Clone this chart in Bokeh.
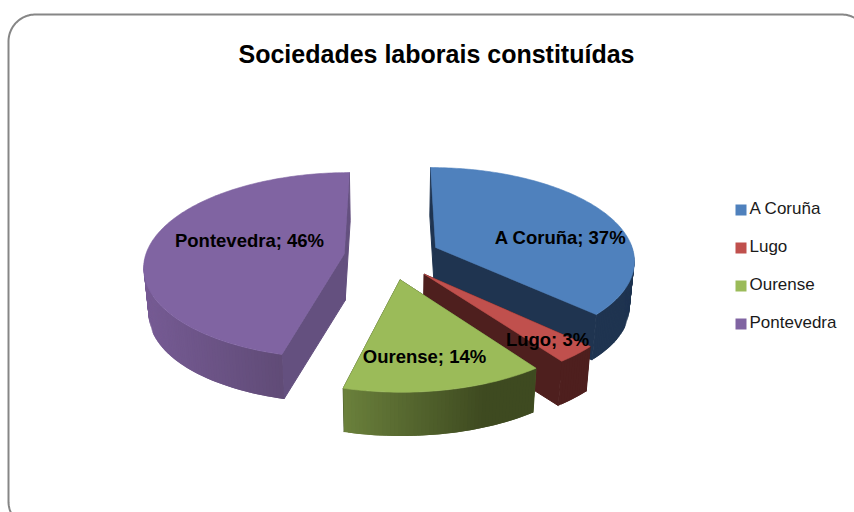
import math
from bokeh.plotting import figure
from bokeh.models import Range1d, ColumnDataSource
from bokeh.core.properties import value
from bokeh.embed import file_html
from bokeh.resources import INLINE

categories = ["A Coruña", "Lugo", "Ourense", "Pontevedra"]
percents = [37, 3, 14, 46]
top_colors = ["#4f81bd", "#c0504d", "#9bbb59", "#8064a2"]
cut_colors = ["#1f3450", "#4e1f1e", "#4a5a28", "#64507f"]
wall_left = ["#1f3450", "#4e1f1e", "#6b813c", "#765b94"]
wall_right = ["#1f3450", "#4e1f1e", "#3e4a20", "#564469"]
explode = [0.25, 0.25, 0.25, 0.235]
title = "Sociedades laborais constituídas"

W, H = 854, 512
p = figure(width=W, height=H, output_backend="svg", toolbar_location=None,
           x_range=Range1d(0, W), y_range=Range1d(H, 0), min_border=0,
           outline_line_color=None, background_fill_color="white")
p.axis.visible = False
p.grid.visible = False

# rounded chart frame (continues past the page edge, as in the reference)
L, T, R_, B_, rad = 8, 14, 868, 528, 27
fx, fy = [], []
for (cxx, cyy, a0) in [(L + rad, T + rad, 180), (R_ - rad, T + rad, 270), (R_ - rad, B_ - rad, 0), (L + rad, B_ - rad, 90)]:
    for i in range(0, 31):
        a = math.radians(a0 + 3 * i)
        fx.append(cxx + rad * math.cos(a))
        fy.append(cyy + rad * math.sin(a))
fx.append(fx[0]); fy.append(fy[0])
p.line(fx, fy, line_color="#868686", line_width=2)

# perspective projection of an exploded pie
CX, CY, A, Bb, K, DEPTH, SHRINK = 390, 256, 199, 92, 0.125, 46.5, 0.98


def proj(X, Y, lower=False):
    d = 1 + K * Y
    sx, sy = CX + A * X / d, CY - Bb * Y / d
    if lower:
        sx = CX + (sx - CX) * SHRINK
        sy = CY + (sy - CY) * SHRINK + DEPTH
    return sx, sy


def mix(c1, c2, f):
    v = [int(c1[i:i + 2], 16) * (1 - f) + int(c2[i:i + 2], 16) * f for i in (1, 3, 5)]
    return "#%02x%02x%02x" % tuple(round(x) for x in v)


start = 0.0
total = sum(percents)
slices = []
for i, v in enumerate(percents):
    a0 = start / total * 2 * math.pi
    a1 = (start + v) / total * 2 * math.pi
    mid = (a0 + a1) / 2
    slices.append((i, a0, a1, explode[i] * math.sin(mid), explode[i] * math.cos(mid)))
    start += v

for i, a0, a1, ox, oy in [slices[3], slices[0], slices[1], slices[2]]:
    n = max(8, int((a1 - a0) * 60))
    ts = [a0 + (a1 - a0) * j / n for j in range(n + 1)]
    pts = [(ox + math.sin(t), oy + math.cos(t)) for t in ts]
    # cut walls, stroked so that they leave no gap against the outer wall
    for q in (pts[0], pts[-1]):
        xs, ys = zip(proj(ox, oy), proj(*q), proj(*q, True), proj(ox, oy, True))
        p.patch(list(xs), list(ys), fill_color=cut_colors[i], line_color=cut_colors[i], line_width=1)
    # outer wall, as overlapping strips so that the shading runs across it without seams
    sxs = [proj(*q)[0] for q in pts]
    lo, hi = min(sxs), max(sxs)
    visible = [j for j in range(n) if not (pts[j][1] - oy > 0.05 and pts[j + 1][1] - oy > 0.05)]
    visible.sort(key=lambda j: (sxs[j] + sxs[j + 1]))
    qx, qy, qc = [], [], []
    for pos, j in enumerate(visible):
        nxt = visible[min(pos + 1, len(visible) - 1)]
        idx = sorted({j, nxt})
        u, w = pts[idx[0]], pts[idx[-1] + 1]
        a, b, c, d = proj(*u), proj(*w), proj(*w, True), proj(*u, True)
        qx.append([a[0], b[0], c[0], d[0]])
        qy.append([a[1], b[1], c[1], d[1]])
        qc.append(mix(wall_left[i], wall_right[i], min(1, (sxs[j] - lo) / max(1, hi - lo) * (1.35 if i == 2 else 1))))
    if qx:
        p.patches(xs="x", ys="y", fill_color="c", line_color=None,
                  source=ColumnDataSource(dict(x=qx, y=qy, c=qc)))
    # top face
    face = [proj(ox, oy)] + [proj(*q) for q in pts]
    p.patch([f[0] for f in face], [f[1] for f in face], fill_color=top_colors[i],
            line_color=top_colors[i], line_width=0.6)

# texts
label_anchor = {"Pontevedra": (249, 240), "A Coruña": (560, 237), "Lugo": (547, 339), "Ourense": (424, 356)}
for name, pct in zip(categories, percents):
    ax, ay = label_anchor[name]
    p.text([ax], [ay], text=[f"{name}; {pct}%"], text_font=value("Liberation Sans"), text_font_style="bold",
           text_font_size="18.5px", text_align="center", text_baseline="middle", text_color="black")

p.text([436], [53], text=[title], text_font=value("Liberation Sans"), text_font_style="bold",
       text_font_size="25px", text_align="center", text_baseline="middle", text_color="black")

# legend
for k, (name, col) in enumerate(zip(categories, top_colors)):
    y0 = 204 + k * 38
    p.quad(left=[735], right=[746], top=[y0], bottom=[y0 + 11], fill_color=col, line_color=None)
    p.text([749], [y0 + 4], text=[name], text_font=value("Liberation Sans"), text_font_size="17px",
           text_align="left", text_baseline="middle", text_color="#1a1a1a")

open("out.html", "w").write(file_html(p, INLINE))
